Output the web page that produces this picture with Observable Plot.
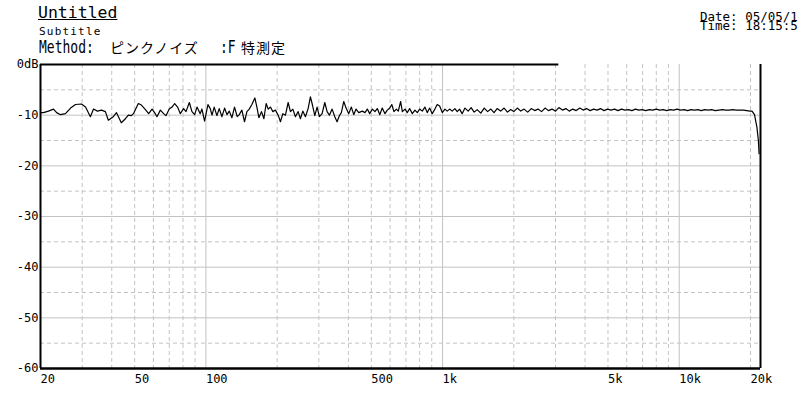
<!DOCTYPE html>
<html><head><meta charset="utf-8">
<script src="https://cdn.jsdelivr.net/npm/d3@7"></script>
<script src="https://cdn.jsdelivr.net/npm/@observablehq/plot@0.6"></script>
<style>
body{margin:0;background:#fff;}
#wrap{position:relative;width:800px;height:400px;overflow:hidden;background:#fff;}
#wrap svg{position:absolute;left:0;top:0;}
.t{position:absolute;font-family:"DejaVu Sans Mono",monospace;color:#000;white-space:pre;}
.j{position:absolute;font-family:"Noto Sans CJK JP",sans-serif;color:#000;white-space:pre;font-size:14px;letter-spacing:1px;line-height:12px;}
.tall{transform:scale(1,1.3);transform-origin:0 0;font-size:13px;line-height:10px;}
</style></head><body>
<div id="wrap"></div>
<script>
// ---- text ----
const titleText = "Untitled";
const subtitleText = "Subtitle";
const methodLabel = "Method:";
const methodName = "ピンクノイズ";
const methodSuffixA = ":F";
const methodSuffixB = "特測定";
const dateText = "Date: 05/05/1";
const timeText = "Time: 18:15:5";

// ---- data: frequency (Hz) and level (dB) ----
const freqHz = [
  20,20.6,21.6,22.7,23.4,24.3,25.5,26.8,28.1,29.8,31.0,32.5,33.5,34.8,36.2,37.6,38.7,40.6,41.9,43.9,45.7,47.0,48.4,49.4,51.8,53.4,
  55.5,57.3,59.2,60.7,62.1,64.2,66.3,67.8,70.0,71.9,73.8,75.9,77.9,80.5,82.4,85.1,87.3,89.6,91.7,94.6,96.2,98.7,102.0,104.3,106.1,108.4,111.3,113.8,116.9,119.9,122.7,125.5,128.8,132.1,135.6,138.3,141.9,145.6,149.0,152.4,156.4,161,
  164.2,167.4,171.7,175.8,179.7,183.3,187.4,191.8,196.7,202.0,206.5,211.4,216.8,222.6,227.6,233.0,238.9,245.3,250.8,256.7,263.3,270.3,276.4,281.0,288.5,295.0,301.7,309.7,317.9,325.1,332.5,341.3,350.4,358.3,366.4,373.6,382.4,391.0,401.4,411.7,421.4,430.9,442.3,
  458,470,481,492,505,518,530,543,556,571,584,598,610,623,638,650,665,676,694,709,726,745,764,782,800,821,842,861,882,904,928,949,972,997,1023,1046,1071,1098,1127,1153,1180,1210,1243,1283,
  1320,1360,1400,1450,1500,1550,1600,1650,1700,1760,1820,1880,1940,2000,2070,2140,2210,2290,2370,2450,2530,2620,2710,2800,2900,3000,3100,3210,3320,3430,3550,3670,3800,3930,4060,4200,4350,4500,4650,4810,4980,
  5150,5330,5510,5700,5900,6100,6310,6530,6750,6980,7220,7470,7730,8000,8270,8560,8850,9160,9470,9800,10100,10500,10850,11200,11600,12000,12400,12800,13300,13700,14200,14700,15200,15700,16300,16800,17400,18000,18600,19300,19900,
  20300,20800,21300,21600,21750
];
const levelDb = [
  -9.5,-9.5,-9.2,-8.8,-9.5,-9.9,-9.7,-8.6,-7.9,-7.8,-8.4,-10.3,-8.8,-9.2,-9.0,-9.3,-11.0,-10.3,-9.5,-11.5,-10.7,-10.0,-10.1,-9.7,-7.7,-8.0,
  -8.9,-9.7,-8.8,-9.5,-10.3,-9.0,-9.7,-10.1,-8.8,-8.4,-7.7,-8.4,-9.7,-8.7,-9.3,-7.5,-9.3,-9.9,-8.4,-9.7,-8.8,-11.2,-7.9,-8.7,-10.0,-8.4,-10.1,-8.7,-10.3,-8.6,-9.9,-9.2,-10.5,-8.4,-10.3,-9.9,-9.0,-11.3,-9.3,-8.8,-7.9,-6.6,
  -8.4,-10.5,-9.3,-10.7,-7.7,-8.8,-8.4,-9.3,-9.0,-10.0,-11.3,-9.7,-10.0,-7.5,-9.3,-8.8,-10.3,-9.3,-10.7,-9.2,-10.3,-8.7,-6.4,-7.7,-10.1,-8.4,-10.3,-9.7,-7.5,-9.3,-10.0,-8.8,-10.3,-11.3,-10.1,-9.5,-7.3,-8.6,-9.7,-8.4,-9.9,-8.8,-9.5,
  -9.2,-9.5,-8.8,-9.7,-8.8,-9.3,-8.7,-9.9,-8.6,-9.7,-9.0,-8.6,-7.9,-9.3,-8.8,-9.2,-7.3,-9.3,-8.8,-9.5,-8.7,-9.7,-9.0,-9.5,-8.8,-9.2,-8.4,-9.5,-8.6,-9.7,-8.8,-7.9,-8.2,-9.5,-8.8,-9.2,-8.8,-9.2,-8.7,-9.3,-8.8,-9.7,-8.6,-9.2,
  -8.5,-9.4,-8.9,-9.6,-8.6,-9.3,-8.8,-9.5,-8.7,-9.2,-8.6,-9.4,-8.9,-9.3,-8.6,-9.2,-8.8,-9.4,-8.7,-9.1,-8.8,-9.3,-8.6,-9.1,-8.8,-9.2,-8.5,-9.0,-8.7,-9.2,-8.8,-9.1,-8.6,-9.0,-8.7,-9.1,-8.8,-9.0,-8.7,-9.1,-8.8,
  -9.0,-8.8,-9.1,-8.8,-9.0,-8.9,-9.1,-8.8,-9.0,-8.9,-9.1,-8.9,-9.0,-8.8,-9.0,-8.9,-9.1,-8.9,-9.0,-8.8,-9.0,-8.9,-9.1,-8.9,-9.0,-8.9,-9.1,-8.9,-9.0,-8.9,-9.1,-9.0,-8.9,-9.0,-9.0,-8.9,-9.0,-9.0,-9.0,-9.1,-9.2,
  -9.2,-9.9,-12.4,-15.0,-17.6
];

// ---- axes / grid ----
const xDomain = [20, 22050];
const yDomain = [-60, 0];
const xTicks = [20, 50, 100, 500, 1000, 5000, 10000, 20000];
const xTickLabels = ["20", "50", "100", "500", "1k", "5k", "10k", "20k"];
const yTicks = [0, -10, -20, -30, -40, -50, -60];
const yTickLabels = ["0dB", "-10", "-20", "-30", "-40", "-50", "-60"];
const gridXMajor = [100, 1000, 10000];
const gridXMinor = [30,40,50,60,70,80,90,200,300,400,500,600,700,800,900,2000,3000,4000,5000,6000,7000,8000,9000,20000];
const gridYMajor = [-10, -20, -30, -40, -50];
const gridYMinor = [-5, -15, -25, -35, -45, -55];
const topBorder = [{y: 0, from: 20, to: 3100}];

const table = freqHz.map((f, i) => ({f, db: levelDb[i]}));
const xLabelRows = xTicks.map((v, i) => ({v, label: xTickLabels[i]}));
const yLabelRows = yTicks.map((v, i) => ({v, label: yTickLabels[i]}));
const gridColor = "#c3c3c3";

const chart = Plot.plot({
  width: 800, height: 400,
  marginLeft: 40, marginRight: 40, marginTop: 64, marginBottom: 32,
  style: {fontFamily: "'DejaVu Sans Mono', monospace", fontSize: "12px", background: "white", color: "black"},
  x: {type: "log", domain: xDomain, axis: null},
  y: {domain: yDomain, axis: null},
  marks: [
    Plot.ruleX(gridXMinor, {stroke: gridColor, strokeDasharray: "4,3"}),
    Plot.ruleX(gridXMajor, {stroke: gridColor}),
    Plot.ruleY(gridYMinor, {stroke: gridColor, strokeDasharray: "4,3"}),
    Plot.ruleY(gridYMajor, {stroke: gridColor}),
    Plot.line(table, {x: "f", y: "db", stroke: "black", strokeWidth: 1.2}),
    Plot.ruleX(xDomain, {stroke: "black", strokeWidth: 2}),
    Plot.ruleY([yDomain[0]], {stroke: "black", strokeWidth: 2.5}),
    Plot.ruleY(topBorder, {y: "y", x1: "from", x2: "to", stroke: "black", strokeWidth: 2}),
    Plot.text(xLabelRows, {x: "v", text: "label", frameAnchor: "bottom", lineAnchor: "top", textAnchor: "start", dx: 0, dy: 6, fill: "black"}),
    Plot.text(yLabelRows, {y: "v", text: "label", frameAnchor: "left", textAnchor: "end", dx: -2, fill: "black"})
  ]
});
const wrap = document.getElementById("wrap");
wrap.appendChild(chart);

function addText(cls, text, left, top, extra) {
  const d = document.createElement("div");
  d.className = cls;
  d.textContent = text;
  d.style.left = left + "px";
  d.style.top = top + "px";
  if (extra) Object.assign(d.style, extra);
  wrap.appendChild(d);
}
addText("t", titleText, 38, 5, {fontSize: "16.5px", lineHeight: "1", textDecoration: "underline"});
addText("t", subtitleText, 39, 26.5, {fontSize: "11px", lineHeight: "9px", letterSpacing: "1.2px"});
addText("t tall", methodLabel, 39, 41.1);
addText("j", methodName, 110, 41);
addText("t tall", methodSuffixA, 220, 41.1);
addText("j", methodSuffixB, 241, 41);
addText("t", dateText + "\n" + timeText, 700, 13.4, {fontSize: "12.5px", lineHeight: "8.5px"});
</script>
</body></html>
